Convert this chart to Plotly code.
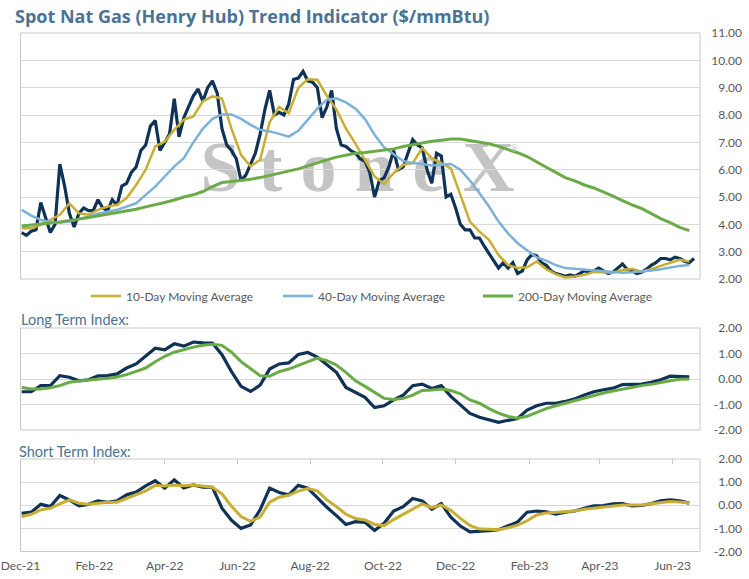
import plotly.graph_objects as go
import pandas as pd

# Henry Hub spot price ($/mmBtu), read every 4 days from 2 Dec 2021
spot_price = [
    3.7, 3.6, 3.75, 3.8, 4.8, 4.2, 3.7, 4.0, 6.2, 5.4,
    4.4, 3.9, 4.4, 4.6, 4.5, 4.5, 4.9, 4.6, 4.5, 4.9,
    4.7, 5.4, 5.5, 5.9, 6.1, 6.7, 6.9, 7.6, 7.8, 6.7,
    7.0, 7.3, 8.6, 7.2, 7.9, 8.3, 8.7, 8.95, 8.5, 9.0,
    9.25, 8.8, 7.5, 6.9, 6.7, 6.4, 5.6, 5.8, 6.2, 6.6,
    7.3, 8.2, 8.9, 8.0, 8.1, 8.0, 8.4, 9.3, 9.35, 9.6,
    9.25, 9.2, 9.0, 7.9, 8.3, 8.9, 7.5, 6.9, 6.85, 6.7,
    6.6, 6.4, 6.3, 5.9, 5.0, 5.6, 5.7, 6.1, 6.7, 6.0,
    6.1, 6.6, 7.1, 6.9, 6.8, 6.0, 5.5, 6.6, 6.5, 5.0,
    5.1, 4.6, 4.0, 3.8, 3.8, 3.5, 3.5, 3.2, 2.95, 2.65,
    2.4, 2.6, 2.4, 2.6, 2.2, 2.3, 2.7, 2.9, 2.85, 2.6,
    2.5, 2.3, 2.2, 2.15, 2.1, 2.15, 2.1, 2.2, 2.3, 2.25,
    2.3, 2.4, 2.3, 2.2, 2.25, 2.4, 2.55, 2.35, 2.3, 2.2,
    2.25, 2.35, 2.5, 2.6, 2.75, 2.75, 2.7, 2.8, 2.75, 2.65,
    2.6, 2.75,
]

# moving averages and indexes, read every 8 days from 2 Dec 2021
ma_10 = [
    3.86, 3.86, 3.98, 4.16, 4.35, 4.77, 4.4, 4.35, 4.53, 4.65,
    4.71, 4.96, 5.44, 6.0, 6.85, 7.03, 7.46, 7.83, 7.95, 8.5,
    8.68, 8.6, 7.5, 6.54, 6.12, 6.36, 7.74, 8.29, 8.07, 8.99,
    9.31, 9.29, 8.7, 8.2, 7.5, 6.95, 6.36, 5.75, 5.48, 5.87,
    6.18, 6.24, 6.79, 6.42, 6.24, 6.05, 5.08, 4.1, 3.73, 3.43,
    2.88, 2.51, 2.4, 2.43, 2.64, 2.36, 2.18, 2.06, 2.09, 2.15,
    2.26, 2.25, 2.23, 2.33, 2.37, 2.27, 2.36, 2.48, 2.6, 2.7,
    2.64,
]
ma_40 = [
    4.53, 4.32, 4.16, 4.09, 4.06, 4.1, 4.2, 4.28, 4.39, 4.47,
    4.53, 4.65, 4.77, 5.08, 5.38, 5.75, 6.12, 6.42, 7.0, 7.5,
    7.86, 8.02, 8.02, 7.86, 7.64, 7.46, 7.4, 7.31, 7.21, 7.42,
    7.83, 8.23, 8.56, 8.61, 8.46, 8.23, 7.85, 7.28, 6.82, 6.57,
    6.32, 6.24, 6.21, 6.15, 6.18, 6.21, 6.0, 5.6, 5.14, 4.65,
    4.1, 3.67, 3.31, 3.04, 2.79, 2.67, 2.51, 2.4, 2.37, 2.33,
    2.31, 2.27, 2.25, 2.23, 2.25, 2.27, 2.31, 2.36, 2.43, 2.48,
    2.51,
]
ma_200 = [
    3.94, 3.97, 4.0, 4.05, 4.09, 4.13, 4.19, 4.25, 4.31, 4.37,
    4.42, 4.48, 4.55, 4.64, 4.71, 4.8, 4.89, 5.0, 5.08, 5.2,
    5.38, 5.53, 5.57, 5.6, 5.65, 5.71, 5.79, 5.86, 5.93, 6.03,
    6.14, 6.26, 6.36, 6.46, 6.54, 6.6, 6.63, 6.67, 6.71, 6.76,
    6.85, 6.92, 6.98, 7.04, 7.08, 7.12, 7.12, 7.07, 7.02, 6.95,
    6.85, 6.74, 6.62, 6.48, 6.27, 6.09, 5.9, 5.71, 5.59, 5.44,
    5.33, 5.19, 5.03, 4.87, 4.71, 4.58, 4.38, 4.21, 4.06, 3.89,
    3.77,
]
long_index = [
    -0.5, -0.5, -0.26, -0.26, 0.13, 0.07, -0.07, -0.03, 0.12, 0.13,
    0.2, 0.43, 0.59, 0.92, 1.21, 1.14, 1.38, 1.29, 1.45, 1.42,
    1.41, 0.95, 0.29, -0.29, -0.49, -0.24, 0.39, 0.59, 0.63, 0.96,
    1.04, 0.86, 0.55, 0.26, -0.33, -0.54, -0.72, -1.12, -1.05, -0.82,
    -0.63, -0.26, -0.2, -0.37, -0.26, -0.68, -1.03, -1.35, -1.5, -1.59,
    -1.7, -1.62, -1.55, -1.22, -1.05, -0.95, -0.95, -0.88, -0.78, -0.63,
    -0.5, -0.42, -0.36, -0.22, -0.22, -0.2, -0.13, -0.03, 0.11, 0.09,
    0.08,
]
long_signal = [
    -0.33, -0.39, -0.39, -0.34, -0.26, -0.13, -0.08, -0.05, 0.0, 0.03,
    0.08, 0.17, 0.3, 0.43, 0.68, 0.89, 1.05, 1.16, 1.25, 1.32,
    1.36, 1.32, 1.05, 0.68, 0.4, 0.13, 0.11, 0.29, 0.39, 0.53,
    0.7, 0.82, 0.72, 0.55, 0.26, -0.07, -0.29, -0.54, -0.76, -0.8,
    -0.76, -0.63, -0.45, -0.43, -0.39, -0.45, -0.58, -0.82, -0.95, -1.16,
    -1.34, -1.47, -1.54, -1.46, -1.3, -1.16, -1.05, -0.95, -0.84, -0.75,
    -0.64, -0.55, -0.47, -0.39, -0.32, -0.26, -0.21, -0.13, -0.07, -0.01,
    0.0,
]
short_index = [
    -0.35, -0.3, 0.04, -0.06, 0.42, 0.23, -0.03, 0.04, 0.19, 0.13,
    0.19, 0.45, 0.57, 0.84, 1.06, 0.74, 1.1, 0.75, 0.88, 0.78,
    0.77, -0.13, -0.65, -1.0, -0.85, -0.2, 0.74, 0.55, 0.45, 0.86,
    0.74, 0.3, -0.09, -0.45, -0.83, -0.71, -0.74, -1.09, -0.78, -0.25,
    -0.06, 0.29, 0.19, -0.17, 0.07, -0.52, -0.9, -1.15, -1.14, -1.1,
    -1.06, -0.88, -0.72, -0.3, -0.25, -0.28, -0.38, -0.3, -0.25, -0.13,
    -0.03, -0.01, 0.06, 0.07, -0.03, -0.01, 0.07, 0.19, 0.23, 0.19,
    0.09,
]
short_signal = [
    -0.49, -0.39, -0.2, -0.13, 0.06, 0.23, 0.09, 0.04, 0.09, 0.13,
    0.13, 0.3, 0.48, 0.62, 0.86, 0.83, 0.88, 0.84, 0.88, 0.83,
    0.78, 0.49, -0.04, -0.49, -0.7, -0.51, 0.13, 0.35, 0.43, 0.61,
    0.72, 0.62, 0.23, -0.06, -0.39, -0.57, -0.64, -0.83, -0.88, -0.62,
    -0.39, -0.16, 0.06, -0.1, 0.01, -0.22, -0.57, -0.87, -1.03, -1.04,
    -1.06, -0.97, -0.86, -0.67, -0.42, -0.33, -0.3, -0.29, -0.25, -0.17,
    -0.12, -0.06, -0.03, 0.01, 0.01, 0.01, 0.06, 0.12, 0.16, 0.14,
    0.1,
]

price_ticks = [2, 3, 4, 5, 6, 7, 8, 9, 10, 11]
price_tick_text = ['2.00', '3.00', '4.00', '5.00', '6.00', '7.00', '8.00', '9.00', '10.00', '11.00']
index_ticks = [-2, -1, 0, 1, 2]
index_tick_text = ['-2.00', '-1.00', '0.00', '1.00', '2.00']

START = '2021-12-02'
X_RANGE = ['2021-12-01', '2023-06-24']

NAVY = '#0f3256'
GOLD = '#c8ae32'
BLUE = '#7db1da'
GREEN = '#6aab47'
GRID = '#d9d9d9'
FRAME = '#c8c8c8'
TEXT = '#595959'
HEAD = '#4a7394'
FONT = 'Lato'

W, H = 749, 579


def px_x(v):
    return v / W


def px_y(v):
    return 1 - v / H


def dates_for(values, step):
    return pd.date_range(START, periods=len(values), freq=step)


X_DOM = [px_x(20.5), px_x(700)]

fig = go.Figure()

# main price panel
fig.add_trace(go.Scatter(x=dates_for(spot_price, '4D'), y=spot_price, mode='lines',
                         line=dict(color=NAVY, width=3.2), showlegend=False,
                         xaxis='x', yaxis='y'))
fig.add_trace(go.Scatter(x=dates_for(ma_10, '8D'), y=ma_10, mode='lines',
                         name='10-Day Moving Average', line=dict(color=GOLD, width=2.5),
                         legend='legend', xaxis='x', yaxis='y'))
fig.add_trace(go.Scatter(x=dates_for(ma_40, '8D'), y=ma_40, mode='lines',
                         name='40-Day Moving Average', line=dict(color=BLUE, width=2.5),
                         legend='legend2', xaxis='x', yaxis='y'))
fig.add_trace(go.Scatter(x=dates_for(ma_200, '8D'), y=ma_200, mode='lines',
                         name='200-Day Moving Average', line=dict(color=GREEN, width=3),
                         legend='legend3', xaxis='x', yaxis='y'))

# long term index panel
fig.add_trace(go.Scatter(x=dates_for(long_index, '8D'), y=long_index, mode='lines',
                         line=dict(color=NAVY, width=3.2), showlegend=False,
                         xaxis='x2', yaxis='y2'))
fig.add_trace(go.Scatter(x=dates_for(long_signal, '8D'), y=long_signal, mode='lines',
                         line=dict(color=GREEN, width=3), showlegend=False,
                         xaxis='x2', yaxis='y2'))

# short term index panel
fig.add_trace(go.Scatter(x=dates_for(short_index, '8D'), y=short_index, mode='lines',
                         line=dict(color=NAVY, width=3.2), showlegend=False,
                         xaxis='x3', yaxis='y3'))
fig.add_trace(go.Scatter(x=dates_for(short_signal, '8D'), y=short_signal, mode='lines',
                         line=dict(color=GOLD, width=3), showlegend=False,
                         xaxis='x3', yaxis='y3'))
# invisible copy so the top tick axis of the short panel gets drawn
fig.add_trace(go.Scatter(x=dates_for(short_signal, '8D'), y=short_signal, mode='lines',
                         line=dict(width=0), opacity=0, showlegend=False, hoverinfo='skip',
                         xaxis='x4', yaxis='y3'))

tick_font = dict(family=FONT, size=12, color=TEXT)

x_common = dict(domain=X_DOM, range=X_RANGE, type='date', showgrid=False, zeroline=False,
                tick0='2021-12-01', dtick='M2', ticks='', showline=False, automargin=False)
y_common = dict(side='left', anchor='free', position=px_x(742), showgrid=True, gridcolor=GRID,
                gridwidth=1, zeroline=False, ticks='', showline=False, tickfont=tick_font,
                automargin=False)

legend_style = dict(y=px_y(296), xanchor='left', yanchor='middle', orientation='h',
                    font=dict(family=FONT, size=12, color=TEXT), bgcolor='rgba(0,0,0,0)')

fig.update_layout(
    width=W, height=H,
    margin=dict(l=0, r=0, t=0, b=0, autoexpand=False),
    paper_bgcolor='white', plot_bgcolor='white',
    font=dict(family=FONT, color=TEXT),
    title=dict(text='Spot Nat Gas (Henry Hub) Trend Indicator ($/mmBtu)',
               x=px_x(15), xanchor='left', y=px_y(17), yanchor='middle',
               font=dict(family='Open Sans', size=18, color=HEAD, weight='bold')),
    xaxis=dict(x_common, anchor='y', showticklabels=False),
    yaxis=dict(y_common, domain=[px_y(279), px_y(33)], range=[2, 11],
               tickvals=price_ticks, ticktext=price_tick_text),
    xaxis2=dict(x_common, anchor='y2', showticklabels=False),
    yaxis2=dict(y_common, domain=[px_y(430), px_y(328)], range=[-2, 2],
                tickvals=index_ticks, ticktext=index_tick_text),
    xaxis3=dict(x_common, anchor='y3', showticklabels=True, tickformat='%b-%y',
                tickfont=tick_font, ticklabelstandoff=5),
    xaxis4=dict(x_common, anchor='y3', overlaying='x3', side='top', matches='x3',
                showticklabels=False, ticks='inside', ticklen=5, tickcolor=FRAME),
    yaxis3=dict(y_common, domain=[px_y(551.5), px_y(459)], range=[-2, 2],
                tickvals=index_ticks, ticktext=index_tick_text),
    legend=dict(legend_style, x=px_x(86)),
    legend2=dict(legend_style, x=px_x(278)),
    legend3=dict(legend_style, x=px_x(478)),
)

# panel frames
for xa, ya in [('x', 'y'), ('x2', 'y2'), ('x3', 'y3')]:
    fig.add_shape(type='rect', xref=xa + ' domain', yref=ya + ' domain',
                  x0=0, x1=1, y0=0, y1=1, line=dict(color=FRAME, width=1), layer='below')

# watermark behind the data
fig.add_shape(type='rect', xref='paper', yref='paper',
              x0=px_x(190), x1=px_x(525), y0=px_y(195), y1=px_y(123),
              line=dict(width=0), fillcolor='rgba(0,0,0,0)', layer='below',
              label=dict(text='S t o n e X', textposition='middle center',
                         font=dict(family='Liberation Serif', size=72, color='#c4c4c4',
                                   weight='bold')))
fig.add_annotation(text='®', xref='paper', yref='paper', x=px_x(520), y=px_y(140),
                   showarrow=False, font=dict(family='Liberation Serif', size=11, color='#c4c4c4'))

fig.add_annotation(text='Long Term Index:', xref='paper', yref='paper', x=px_x(19), y=px_y(319),
                   xanchor='left', yanchor='middle', showarrow=False,
                   font=dict(family=FONT, size=14.5, color=HEAD))
fig.add_annotation(text='Short Term Index:', xref='paper', yref='paper', x=px_x(17), y=px_y(451),
                   xanchor='left', yanchor='middle', showarrow=False,
                   font=dict(family=FONT, size=14.5, color=HEAD))

fig.write_html('out.html', config={'displayModeBar': False},
               post_script="document.body.style.margin='0';")
